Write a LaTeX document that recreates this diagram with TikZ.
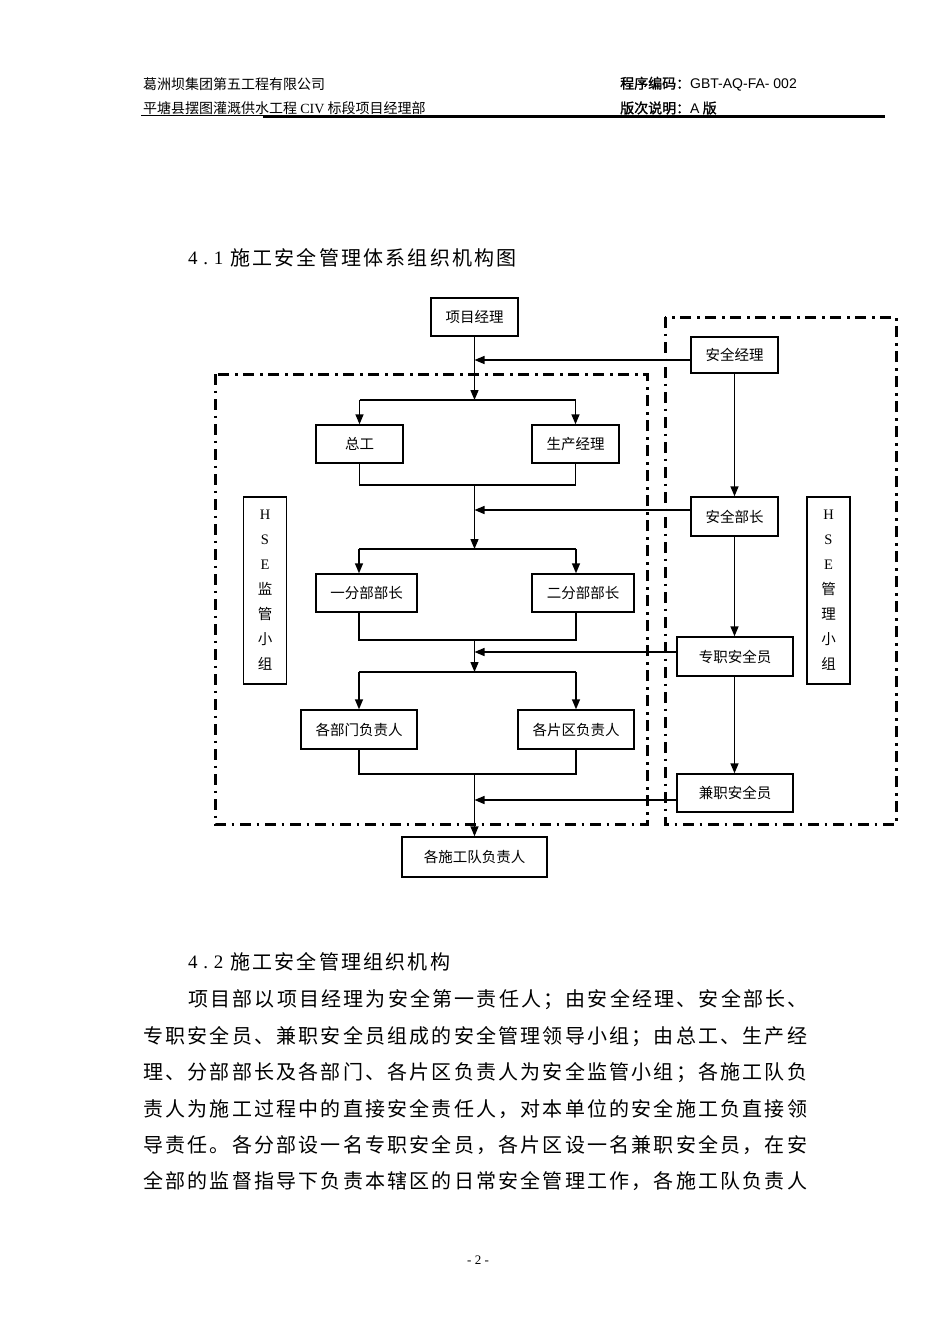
\documentclass[tikz,border=0pt]{standalone}
\usepackage{fontspec}
\setmainfont{Liberation Serif}
\newfontfamily\cjk{Noto Sans CJK SC}
\newfontfamily\cjkb[FakeBold=1.5]{Noto Sans CJK SC}
\newfontfamily\cjksp[LetterSpace=11]{Noto Sans CJK SC}
\newfontfamily\serifsp[LetterSpace=30]{Liberation Serif}
\newfontfamily\hsans{Liberation Sans}
\usetikzlibrary{arrows.meta}
\begin{document}
\begin{tikzpicture}[x=1pt,y=-1pt,
  box/.style={draw,line width=1.4pt,inner sep=0pt,font=\cjk\fontsize{14.5}{16}\selectfont},
  conn/.style={line width=1.4pt},
  arr/.style={line width=1.4pt,-{Triangle[length=10pt,width=8pt]}},
  grp/.style={line width=3pt,dash pattern=on 11pt off 5.5pt on 2.5pt off 6pt},
  txt/.style={inner sep=0pt,anchor=west},
  hdr/.style={txt,font=\cjk\fontsize{14}{16}\selectfont},
  hdrb/.style={txt,font=\cjkb\fontsize{14}{16}\selectfont},
  body/.style={txt,font=\cjksp\fontsize{20}{22}\selectfont},
  hse/.style={draw,line width=1.4pt,inner sep=0pt,minimum width=43pt,minimum height=187pt,align=center,font=\cjk\fontsize{14.5}{25}\selectfont}]
\useasboundingbox (0,0) rectangle (950,1344);

% header
\node[hdr] (h1) at (143,84) {葛洲坝集团第五工程有限公司};
\node[hdr] (h2) at (143,108) {平塘县摆图灌溉供水工程 {\rmfamily CIV} 标段项目经理部};
\node[hdrb] (h3) at (620,84) {程序编码：{\hsans GBT-AQ-FA- 002}};
\node[hdrb] (h4) at (620,108) {版次说明：{\hsans A} 版};
\draw[line width=0.8pt] (141,115) -- (885,115);
\draw[line width=2pt] (263,117) -- (885,117);

% title 4.1
\node[txt,font=\serifsp\fontsize{19}{22}\selectfont] (t1n) at (188,258) {4.1};
\node[body] (t1) at (230,258) {施工安全管理体系组织机构图};

% group frames
\draw[grp] (215,374) rectangle (647,824);
\draw[grp] (665,317) rectangle (896,824);

% boxes
\node[box,minimum width=87pt,minimum height=38pt] (pm) at (474.5,317) {项目经理};
\node[box,minimum width=87pt,minimum height=36pt] (aq) at (734.5,355) {安全经理};
\node[box,minimum width=87pt,minimum height=38pt] (zg) at (359.5,444) {总工};
\node[box,minimum width=87pt,minimum height=38pt] (sc) at (575.5,444) {生产经理};
\node[box,minimum width=87pt,minimum height=39pt] (ab) at (734.5,516.5) {安全部长};
\node[box,minimum width=101pt,minimum height=38pt] (y1) at (366.5,593) {一分部部长};
\node[box,minimum width=102pt,minimum height=38pt] (y2) at (583,593) {二分部部长};
\node[box,minimum width=116pt,minimum height=39pt] (zz) at (735,656.5) {专职安全员};
\node[box,minimum width=116pt,minimum height=39pt] (gb) at (359,729.5) {各部门负责人};
\node[box,minimum width=116pt,minimum height=39pt] (gp) at (576,729.5) {各片区负责人};
\node[box,minimum width=116pt,minimum height=38pt] (jz) at (735,793) {兼职安全员};
\node[box,minimum width=145pt,minimum height=40pt] (sg) at (474.5,857) {各施工队负责人};
\node[hse] (hl) at (265,590.5) {{\rmfamily H}\\{\rmfamily S}\\{\rmfamily E}\\监\\管\\小\\组};
\node[hse] (hr) at (828.5,590.5) {{\rmfamily H}\\{\rmfamily S}\\{\rmfamily E}\\管\\理\\小\\组};

% junction coordinates
\coordinate (j1) at (474.5,360);
\coordinate (b1) at (474.5,400);
\coordinate (b1l) at (359.5,400);
\coordinate (b1r) at (575.5,400);
\coordinate (c1l) at (359.5,485);
\coordinate (c1r) at (575.5,485);
\coordinate (c1) at (474.5,485);
\coordinate (j2) at (474.5,510);
\coordinate (b2) at (474.5,549);
\coordinate (b2l) at (359,549);
\coordinate (b2r) at (576,549);
\coordinate (c2l) at (359,640);
\coordinate (c2r) at (576,640);
\coordinate (c2) at (474.5,640);
\coordinate (j3) at (474.5,652);
\coordinate (b3) at (474.5,672);
\coordinate (b3l) at (359,672);
\coordinate (b3r) at (576,672);
\coordinate (c3l) at (359,774);
\coordinate (c3r) at (576,774);
\coordinate (c3) at (474.5,774);
\coordinate (j4) at (474.5,800);

% main column
\draw[arr] (pm.south) -- (b1);
\draw[conn] (b1l) -- (b1r);
\draw[arr] (b1l) -- (zg.north);
\draw[arr] (b1r) -- (sc.north);
\draw[conn] (zg.south) -- (c1l) -- (c1r) -- (sc.south);
\draw[arr] (c1) -- (b2);
\draw[conn] (b2l) -- (b2r);
\draw[arr] (b2l) -- (y1.north -| b2l);
\draw[arr] (b2r) -- (y2.north -| b2r);
\draw[conn] (y1.south -| c2l) -- (c2l) -- (c2r) -- (y2.south -| c2r);
\draw[arr] (c2) -- (b3);
\draw[conn] (b3l) -- (b3r);
\draw[arr] (b3l) -- (gb.north);
\draw[arr] (b3r) -- (gp.north);
\draw[conn] (gb.south) -- (c3l) -- (c3r) -- (gp.south);
\draw[arr] (c3) -- (sg.north);

% safety column
\draw[arr] (aq.west |- j1) -- (j1);
\draw[arr] (ab.west |- j2) -- (j2);
\draw[arr] (zz.west |- j3) -- (j3);
\draw[arr] (jz.west |- j4) -- (j4);
\draw[arr] (aq.south) -- (ab.north);
\draw[arr] (ab.south) -- (zz.north -| ab.south);
\draw[arr] (zz.south -| ab.south) -- (jz.north -| ab.south);

% section 4.2
\node[txt,font=\serifsp\fontsize{19}{22}\selectfont] (t2n) at (188,962) {4.2};
\node[body] (t2) at (230,962) {施工安全管理组织机构};
\node[body] (p1) at (188,1000) {项目部以项目经理为安全第一责任人；由安全经理、安全部长、};
\node[body] (p2) at (143,1037) {专职安全员、兼职安全员组成的安全管理领导小组；由总工、生产经};
\node[body] (p3) at (143,1073) {理、分部部长及各部门、各片区负责人为安全监管小组；各施工队负};
\node[body] (p4) at (143,1109) {责人为施工过程中的直接安全责任人，对本单位的安全施工负直接领};
\node[body] (p5) at (143,1145) {导责任。各分部设一名专职安全员，各片区设一名兼职安全员，在安};
\node[body] (p6) at (143,1181) {全部的监督指导下负责本辖区的日常安全管理工作，各施工队负责人};

\node[inner sep=0pt,font=\rmfamily\fontsize{13}{15}\selectfont] (pg) at (478,1260) {- 2 -};
\end{tikzpicture}
\end{document}
